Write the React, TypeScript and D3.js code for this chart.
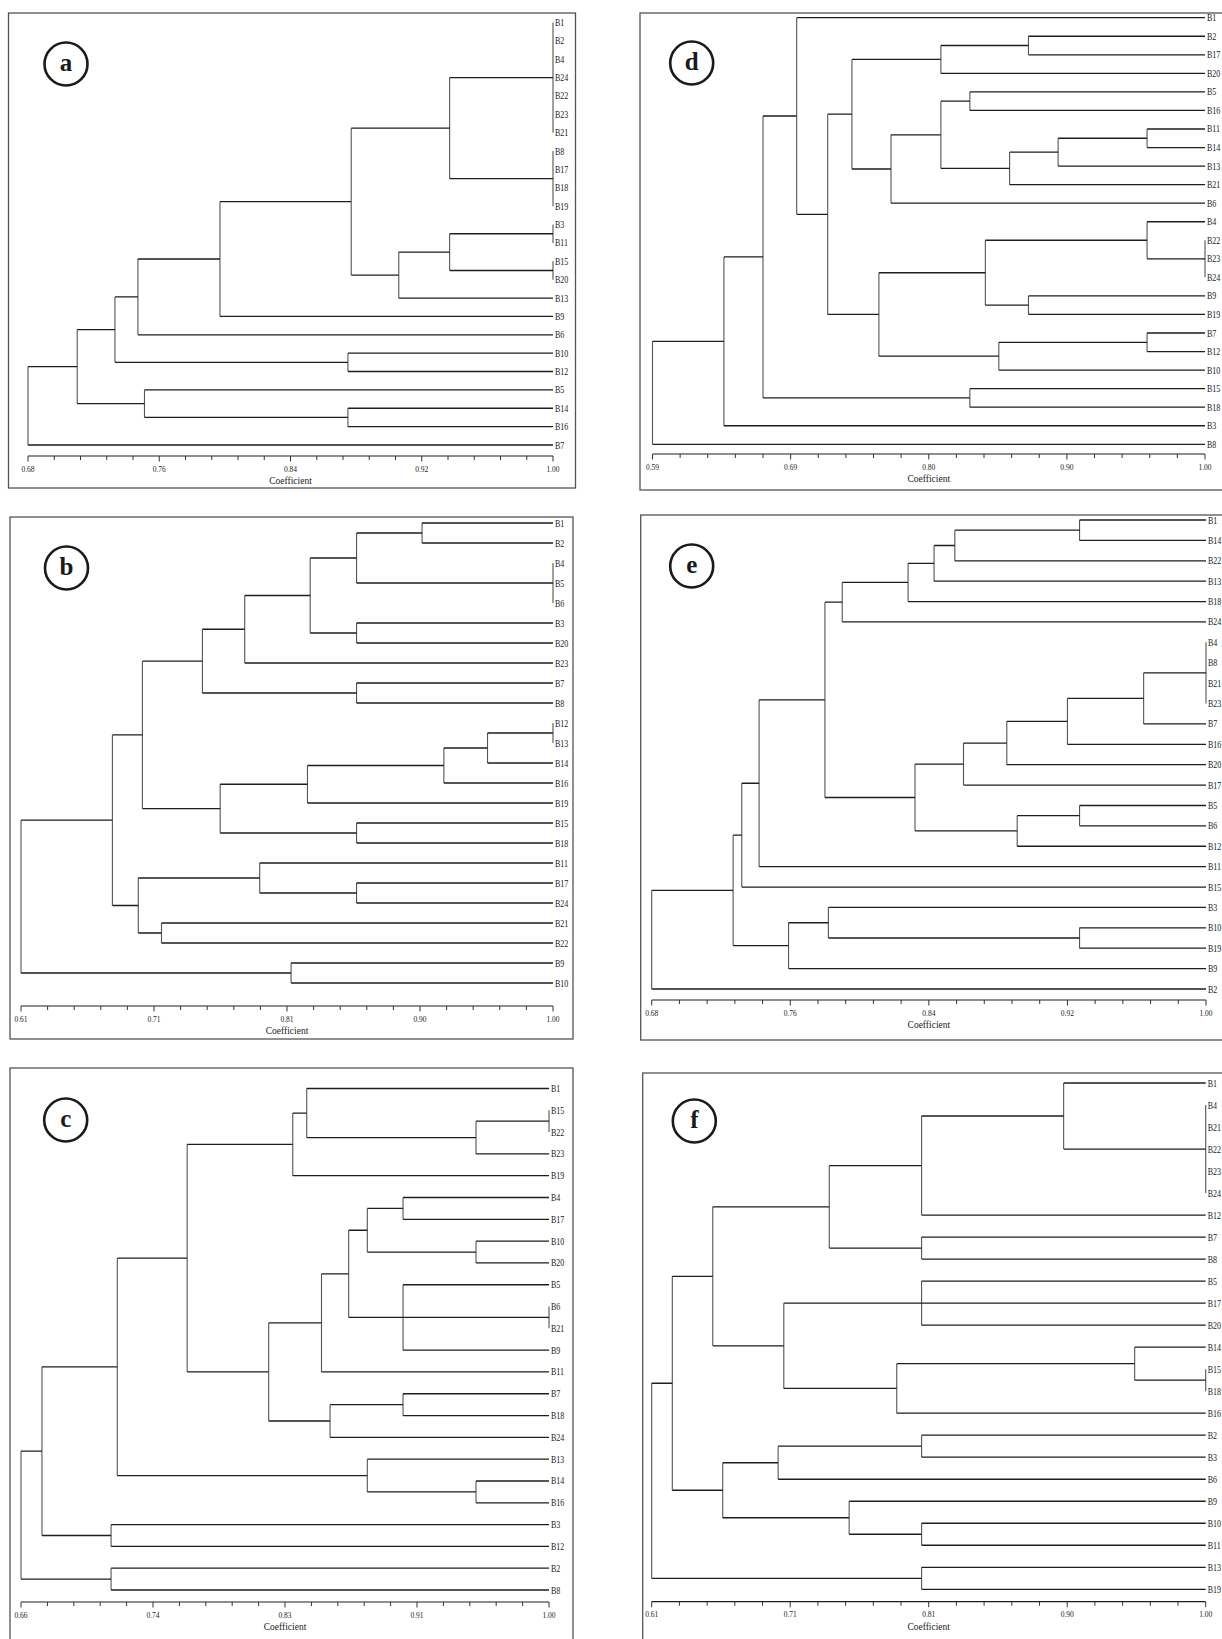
import * as d3 from "d3";

// Nested tree: [merge coefficient, ...children]; leaves are strings
type Tree = string | (number | Tree)[];

const treeA: Tree = [0.68,
  [0.710,
    [0.733,
      [0.747,
        [0.797,
          [0.877,
            [0.937, [1, "B1", "B2", "B4", "B24", "B22", "B23", "B21"], [1, "B8", "B17", "B18", "B19"]],
            [0.906, [0.937, [1, "B3", "B11"], [1, "B15", "B20"]], "B13"]],
          "B9"],
        "B6"],
      [0.875, "B10", "B12"]],
    [0.751, "B5", [0.875, "B14", "B16"]]],
  "B7"];

const treeB: Tree = [0.61,
  [0.677,
    [0.699,
      [0.743,
        [0.774,
          [0.822,
            [0.856, [0.904, "B1", "B2"], [1, "B4", "B5", "B6"]],
            [0.856, "B3", "B20"]],
          "B23"],
        [0.856, "B7", "B8"]],
      [0.756,
        [0.820, [0.920, [0.952, [1, "B12", "B13"], "B14"], "B16"], "B19"],
        [0.856, "B15", "B18"]]],
    [0.696,
      [0.785, "B11", [0.856, "B17", "B24"]],
      [0.713, "B21", "B22"]]],
  [0.808, "B9", "B10"]];

const treeC: Tree = [0.66,
  [0.6735,
    [0.722,
      [0.767,
        [0.835, [0.844, "B1", [0.953, [1, "B15", "B22"], "B23"]], "B19"],
        [0.8195,
          [0.8535,
            [0.871,
              [0.883, [0.906, "B4", "B17"], [0.953, "B10", "B20"]],
              [0.906, "B5", [1, "B6", "B21"], "B9"]],
            "B11"],
          [0.859, [0.906, "B7", "B18"], "B24"]]],
      [0.883, "B13", [0.953, "B14", "B16"]]],
    [0.718, "B3", "B12"]],
  [0.718, "B2", "B8"]];

const treeD: Tree = [0.59,
  [0.643,
    [0.672,
      [0.697,
        "B1",
        [0.720,
          [0.738,
            [0.804, [0.869, "B2", "B17"], "B20"],
            [0.767,
              [0.804, [0.8255, "B5", "B16"], [0.855, [0.891, [0.957, "B11", "B14"], "B13"], "B21"]],
              "B6"]],
          [0.758,
            [0.837, [0.957, "B4", [1, "B22", "B23", "B24"]], [0.869, "B9", "B19"]],
            [0.847, [0.957, "B7", "B12"], "B10"]]]],
      [0.8255, "B15", "B18"]],
    "B3"],
  "B8"];

const treeE: Tree = [0.68,
  [0.727,
    [0.732,
      [0.742,
        [0.780,
          [0.790, [0.828, [0.843, [0.855, [0.927, "B1", "B14"], "B22"], "B13"], "B18"], "B24"],
          [0.832,
            [0.860, [0.885, [0.920, [0.964, [1, "B4", "B8", "B21", "B23"], "B7"], "B16"], "B20"], "B17"],
            [0.891, [0.927, "B5", "B6"], "B12"]]],
        "B11"],
      "B15"],
    [0.759, [0.782, "B3", [0.927, "B10", "B19"]], "B9"]],
  "B2"];

const treeF: Tree = [0.61,
  [0.6245,
    [0.653,
      [0.735,
        [0.80, [0.90, "B1", [1, "B4", "B21", "B22", "B23", "B24"]], "B12"],
        [0.80, "B7", "B8"]],
      [0.703,
        [0.80, "B5", "B17", "B20"],
        [0.7825, [0.95, "B14", [1, "B15", "B18"]], "B16"]]],
    [0.660,
      [0.699, [0.80, "B2", "B3"], "B6"],
      [0.749, "B9", [0.80, "B10", "B11"]]]],
  [0.80, "B13", "B19"]];

// axis domains and printed tick labels
const domainA = [0.68, 1.0];
const domainB = [0.61, 1.0];
const domainC = [0.66, 1.0];
const domainD = [0.59, 1.0];
const domainE = [0.68, 1.0];
const domainF = [0.61, 1.0];

const ticksA = ["0.68", "0.76", "0.84", "0.92", "1.00"];
const ticksB = ["0.61", "0.71", "0.81", "0.90", "1.00"];
const ticksC = ["0.66", "0.74", "0.83", "0.91", "1.00"];
const ticksD = ["0.59", "0.69", "0.80", "0.90", "1.00"];
const ticksE = ["0.68", "0.76", "0.84", "0.92", "1.00"];
const ticksF = ["0.61", "0.71", "0.81", "0.90", "1.00"];

const panelLetters = ["a", "b", "c", "d", "e", "f"];

// page layout for each panel (pixels)
const layouts = [
  { frame: [8.5, 13, 567, 475], ax: [28, 553], leafY: [22.5, 445], axisY: 456, circle: [66, 64] },
  { frame: [10, 517, 563, 522], ax: [21, 553], leafY: [523, 983], axisY: 1006, circle: [66.5, 568] },
  { frame: [10, 1068, 563, 600], ax: [21, 549], leafY: [1088.5, 1590], axisY: 1602, circle: [65.7, 1120] },
  { frame: [640, 13, 620, 477], ax: [652.5, 1205], leafY: [17.7, 444.3], axisY: 454, circle: [691.7, 63] },
  { frame: [640.7, 515, 620, 525], ax: [651.7, 1206], leafY: [520, 989], axisY: 1000, circle: [691.7, 566] },
  { frame: [642.7, 1073, 620, 600], ax: [651.7, 1205.7], leafY: [1083, 1589.3], axisY: 1601.7, circle: [694.3, 1121] },
];

const trees = [treeA, treeB, treeC, treeD, treeE, treeF];
const domains = [domainA, domainB, domainC, domainD, domainE, domainF];
const tickLabels = [ticksA, ticksB, ticksC, ticksD, ticksE, ticksF];

const serif = "'Liberation Serif', 'DejaVu Serif', serif";

function Dendrogram({ tree, domain, labels, layout, letter }: any) {
  const x = d3.scaleLinear().domain(domain).range(layout.ax);
  const root: any = d3.hierarchy(tree, (d: any) => (typeof d === "string" ? null : d.slice(1)));
  const leaves = root.leaves();
  const y = d3.scalePoint().domain(leaves.map((l: any) => l.data)).range(layout.leafY);

  root.eachAfter((n: any) => {
    if (!n.children) {
      n.px = x(1);
      n.py = y(n.data);
    } else {
      n.px = x(n.data[0]);
      n.py = (n.children[0].py + n.children[n.children.length - 1].py) / 2;
    }
  });

  const hPath = d3.path();
  const vPath = d3.path();
  root.each((n: any) => {
    if (n.parent) {
      hPath.moveTo(n.parent.px, n.py);
      hPath.lineTo(n.px, n.py);
    }
    if (n.children) {
      vPath.moveTo(n.px, n.children[0].py);
      vPath.lineTo(n.px, n.children[n.children.length - 1].py);
    }
  });

  const ticks = d3.range(21).map((i) => domain[0] + ((domain[1] - domain[0]) * i) / 20);
  const [fx, fy, fw, fh] = layout.frame;
  const ay = layout.axisY;

  return (
    <g>
      <rect x={fx} y={fy} width={fw} height={fh} fill="none" stroke="#555" strokeWidth={1.3} />
      <circle cx={layout.circle[0]} cy={layout.circle[1]} r={21.5} fill="none" stroke="#1a1a1a" strokeWidth={2.6} />
      <text x={layout.circle[0]} y={layout.circle[1] + 7} textAnchor="middle" fontFamily={serif}
        fontWeight="bold" fontSize={25} fill="#1a1a1a">{letter}</text>
      <path d={vPath.toString()} fill="none" stroke="#555" strokeWidth={1.1} />
      <path d={hPath.toString()} fill="none" stroke="#1e1e1e" strokeWidth={1.3} />
      {leaves.map((l: any) => (
        <text key={l.data} transform={`translate(${x(1) + 2},${l.py + 3.5}) scale(0.8,1)`}
          fontFamily={serif} fontSize={10} fill="#1a1a1a">{l.data}</text>
      ))}
      <line x1={x(domain[0])} x2={x(domain[1])} y1={ay} y2={ay} stroke="#1e1e1e" strokeWidth={1.2} />
      {ticks.map((t, i) => (
        <line key={i} x1={x(t)} x2={x(t)} y1={ay} y2={ay + (i % 5 === 0 ? 5.5 : 4)} stroke="#333" strokeWidth={1} />
      ))}
      {labels.map((s: string, i: number) => (
        <text key={s + i} x={x(ticks[i * 5])} y={ay + 15.5} textAnchor="middle" fontFamily={serif}
          fontSize={7.5} fill="#222">{s}</text>
      ))}
      <text x={(layout.ax[0] + layout.ax[1]) / 2} y={ay + 28} textAnchor="middle" fontFamily={serif}
        fontSize={9.5} fill="#222">Coefficient</text>
    </g>
  );
}

export default function App() {
  return (
    <svg width={1222} height={1639} viewBox="0 0 1222 1639"
      style={{ position: "absolute", left: 0, top: 0, background: "#fff" }}>
      <rect width={1222} height={1639} fill="#fff" />
      {trees.map((t, i) => (
        <Dendrogram key={i} tree={t} domain={domains[i]} labels={tickLabels[i]} layout={layouts[i]}
          letter={panelLetters[i]} />
      ))}
    </svg>
  );
}
